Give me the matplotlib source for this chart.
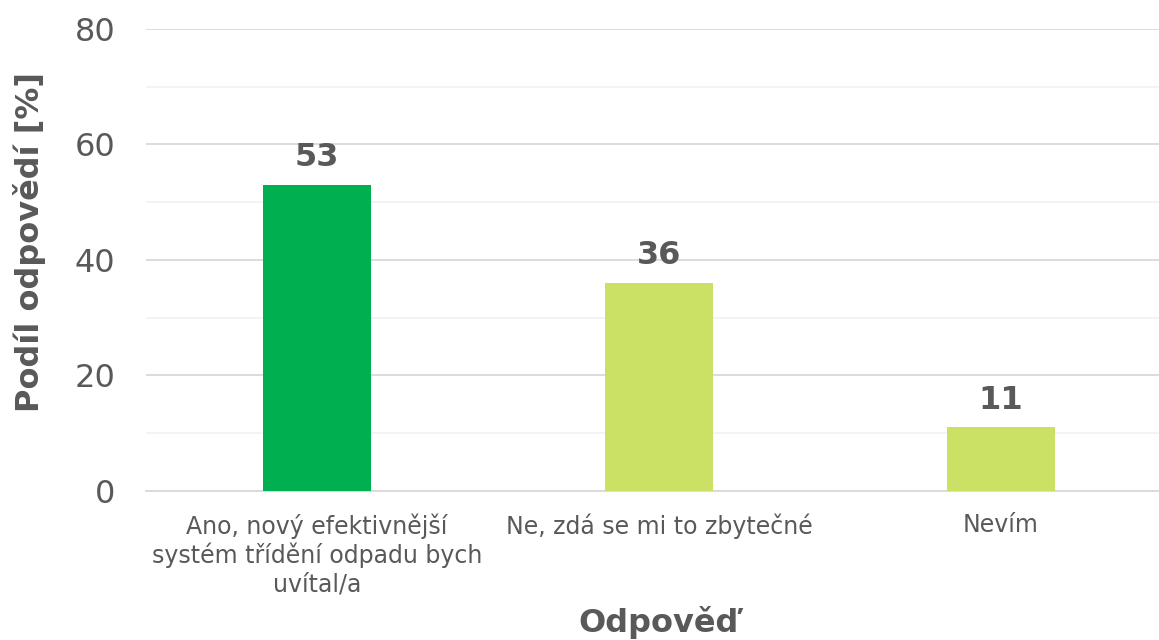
import matplotlib.pyplot as plt
from matplotlib.ticker import MultipleLocator

categories = ['Ano, nový efektivnější\nsystém třídění odpadu bych\nuvítal/a',
              'Ne, zdá se mi to zbytečné',
              'Nevím']
values = [53, 36, 11]
colors = ['#00b050', '#cae165', '#cae165']

text_color = '#595959'
plt.rcParams['font.family'] = ['DejaVu Sans']

fig = plt.figure(figsize=(11.59, 6.40), dpi=100)
ax = fig.add_axes([0.126, 0.233, 0.885, 0.722])

x = range(len(categories))
bars = ax.bar(x, values, width=0.316, color=colors, zorder=3)

for xi, v in zip(x, values):
    ax.text(xi, v + 2, f'{v}', ha='center', va='bottom', fontsize=23,
            fontweight='bold', color=text_color)

ax.set_ylim(0, 80)
ax.set_xlim(-0.5, 2.5)
ax.yaxis.set_major_locator(MultipleLocator(20))
ax.yaxis.set_minor_locator(MultipleLocator(10))
ax.grid(axis='y', which='major', color='#d9d9d9', linewidth=1.3, zorder=0)
ax.grid(axis='y', which='minor', color='#f2f2f2', linewidth=1.3, zorder=0)

for s in ['top', 'right', 'left']:
    ax.spines[s].set_visible(False)
ax.spines['bottom'].set_color('#d9d9d9')
ax.spines['bottom'].set_linewidth(1.3)

ax.set_xticks(list(x))
ax.set_xticklabels(categories, fontsize=17, color=text_color, linespacing=1.2)
ax.tick_params(axis='x', length=0, pad=16)
ax.tick_params(axis='y', which='both', length=0, labelsize=23, labelcolor=text_color, pad=22)

ax.set_ylabel('Podíl odpovědí [%]', fontsize=23, fontweight='bold', color=text_color)
ax.yaxis.set_label_coords(-0.098, 0.538)
ax.set_xlabel('Odpověď', fontsize=23, fontweight='bold', color=text_color)
ax.xaxis.set_label_coords(0.5, -0.25)

fig.savefig('out.png', dpi=100)
